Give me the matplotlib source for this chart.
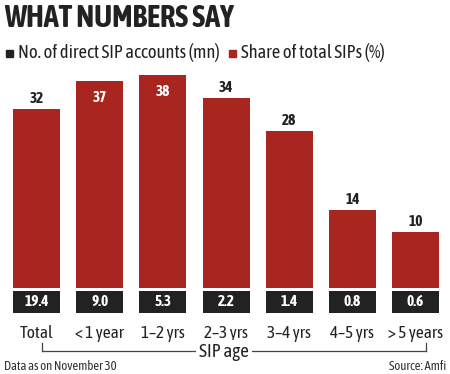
import matplotlib
matplotlib.use("Agg")
import matplotlib.pyplot as plt
from matplotlib.lines import Line2D
from matplotlib.patches import Rectangle

categories = ["Total", "< 1 year", "1\u20132 yrs", "2\u20133 yrs", "3\u20134 yrs", "4\u20135 yrs", "> 5 years"]
share_pct = [32, 37, 38, 34, 28, 14, 10]
accounts_mn = ["19.4", "9.0", "5.3", "2.2", "1.4", "0.8", "0.6"]

title = "WHAT NUMBERS SAY"
legend_labels = ["No. of direct SIP accounts (mn)", "Share of total SIPs (%)"]
axis_title = "SIP age"
note = "Data as on November 30"
source = "Source: Amfi"

RED = "#A8261F"
BLACK = "#222222"
plt.rcParams["font.family"] = ["Asap Condensed", "DejaVu Sans"]

W, H = 450, 374
fig = plt.figure(figsize=(W / 100, H / 100), dpi=100)
fig.patch.set_facecolor("white")

def px(x, y):
    return x / W, 1 - y / H

ax = fig.add_axes([0, 0, 1, 1])
step = 63.17
x0 = 36.5
base_px = 288
unit = 5.6
ax.set_xlim((0 - x0) / step, (W - x0) / step)
ax.set_ylim((base_px - H) / unit, base_px / unit)
ax.axis("off")

def dy(ypx):
    return (base_px - ypx) / unit

xs = list(range(len(categories)))
bw = 47 / step
ax.bar(xs, share_pct, width=bw, color=RED, zorder=2)

gap = 3 / unit
box_h = 22 / unit
ax.bar(xs, [-box_h] * len(xs), bottom=-gap, width=bw, color=BLACK, zorder=2)
for x, t in zip(xs, accounts_mn):
    ax.text(x, dy(306), t, color="white", ha="center", va="baseline",
            fontsize=11, fontweight="bold", zorder=3)

for x, v in zip(xs, share_pct):
    if v > 35:
        ax.text(x, v - 21 / unit, str(v), color="white", ha="center", va="baseline",
                fontsize=11, fontweight="bold", zorder=3)
    else:
        ax.text(x, v + 6 / unit, str(v), color=BLACK, ha="center", va="baseline",
                fontsize=11, fontweight="bold", zorder=3)

for x, c in zip(xs, categories):
    ax.text(x, dy(338), c, color=BLACK, ha="center", va="baseline", fontsize=12.5)

fig.text(*px(4, 27), title, ha="left", va="baseline", fontsize=22,
         fontweight="bold", color=BLACK)

fig.add_artist(Rectangle(px(6, 57), 7 / W, 7 / H, transform=fig.transFigure, color=BLACK))
fig.text(*px(18, 58), legend_labels[0], ha="left", va="baseline", fontsize=13.3,
         color=BLACK)
fig.add_artist(Rectangle(px(229, 57), 7 / W, 7 / H, transform=fig.transFigure, color=RED))
fig.text(*px(241, 58), legend_labels[1], ha="left", va="baseline", fontsize=13.3,
         color=BLACK)

yb = 351
for xa, xb, ya, yb2 in [(42, 426, yb, yb), (42, 42, 343, yb), (426, 426, 343, yb)]:
    p1 = px(xa, ya)
    p2 = px(xb, yb2)
    fig.add_artist(Line2D([p1[0], p2[0]], [p1[1], p2[1]], transform=fig.transFigure,
                          color="#444444", lw=0.9))
fig.text(*px(224, 357), axis_title, ha="center", va="baseline", fontsize=13.5,
         color=BLACK, bbox=dict(facecolor="white", edgecolor="none", pad=2))

fig.text(*px(4, 370), note, ha="left", va="baseline", fontsize=9.2, color="#333333")
fig.text(*px(446, 370), source, ha="right", va="baseline", fontsize=9.2, color="#333333")

fig.savefig("out.png", dpi=100, facecolor="white")
